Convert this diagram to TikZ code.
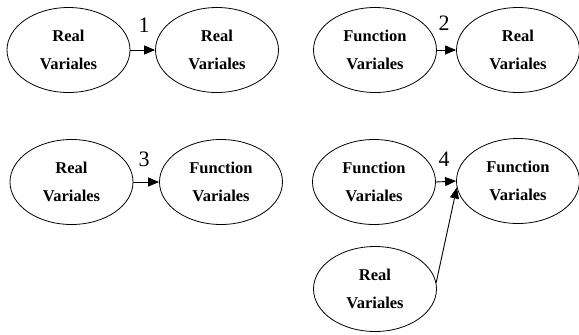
\documentclass[tikz,border=0pt]{standalone}
\usepackage{fontspec}
\setmainfont{Liberation Serif}
\usetikzlibrary{shapes.geometric,arrows.meta}
\tikzset{
  varnode/.style={draw=black, line width=0.8pt, ellipse, minimum width=123pt, minimum height=85pt, inner sep=0pt,
    align=center, font=\fontsize{16.5}{28}\selectfont\bfseries},
  numlabel/.style={inner sep=0pt, font=\fontsize{22}{24}\selectfont},
  link/.style={-{Triangle[length=11pt,width=9pt]}, line width=0.9pt}
}
\begin{document}
\begin{tikzpicture}[x=1pt,y=-1pt]
\useasboundingbox (0,0) rectangle (579,335);
% row 1
\node[varnode] (e1) at (68.5,50) {Real\\Variales};
\node[varnode] (e2) at (217,50) {Real\\Variales};
\node[varnode] (e3) at (375,50) {Function\\Variales};
\node[varnode] (e4) at (518,50) {Real\\Variales};
% row 2
\node[varnode] (e5) at (71.5,182) {Real\\Variales};
\node[varnode] (e6) at (221,182) {Function\\Variales};
\node[varnode] (e7) at (374,182) {Function\\Variales};
\node[varnode] (e8) at (518,181) {Function\\Variales};
\node[varnode] (e9) at (375,289) {Real\\Variales};
% labels
\node[numlabel] (n1) at (144,25) {1};
\node[numlabel] (n2) at (444,23) {2};
\node[numlabel] (n3) at (144,159) {3};
\node[numlabel] (n4) at (444,159) {4};
% connectors
\draw[link] (e1.east) -- (e2.west);
\draw[link] (e3.east) -- (e4.west);
\draw[link] (e5.east) -- (e6.west);
\draw[link] (e7.east) -- (e8.180);
\draw[link] (e9.6) -- (e8.186);
\end{tikzpicture}
\end{document}
